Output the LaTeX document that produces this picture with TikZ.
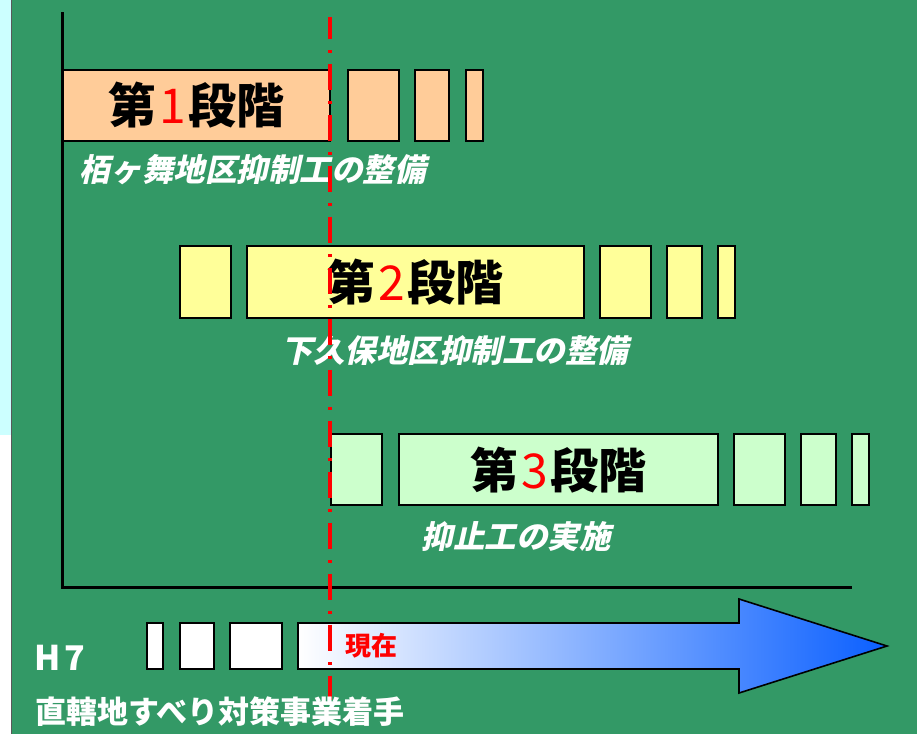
\documentclass[tikz,border=0pt]{standalone}
\usepackage{fontspec}
\newfontfamily\jp{Noto Sans CJK JP}
\newfontfamily\jpsl{Noto Sans CJK JP}[FakeSlant=0.22]
\definecolor{bggreen}{HTML}{339966}
\definecolor{stripcyan}{HTML}{CCFFFF}
\definecolor{boxone}{HTML}{FFCC99}
\definecolor{boxtwo}{HTML}{FFFF99}
\definecolor{boxthree}{HTML}{CCFFCC}
\definecolor{arrowblue}{RGB}{10,95,255}
\newcommand{\stagedigit}[1]{\hspace{3pt}{\mdseries\textcolor{red}{#1}}\hspace{3pt}}
\begin{document}
\begin{tikzpicture}[x=1pt,y=-1pt,
  axisline/.style={line width=3pt,black,line join=miter},
  boxbase/.style={draw=black,line width=1.6pt},
  onebox/.style={boxbase,fill=boxone},
  twobox/.style={boxbase,fill=boxtwo},
  threebox/.style={boxbase,fill=boxthree},
  nowbox/.style={boxbase,fill=white},
  nowline/.style={red,line width=3.2pt,dash pattern=on 26pt off 11.5pt on 2.5pt off 11pt,dash phase=4.3pt},
  stagelabel/.style={inner sep=0pt,font=\jp\bfseries\fontsize{48}{52}\selectfont,text=black},
  sublabel/.style={inner sep=0pt,font=\jpsl\bfseries\fontsize{31.5}{34}\selectfont,text=white},
  bottomlabel/.style={inner sep=0pt,font=\jp\bfseries\fontsize{31}{34}\selectfont,text=white},
]
\useasboundingbox (0,0) rectangle (917,734);
% background
\fill[stripcyan] (0,0) rectangle (12,435);
\fill[white] (0,435) rectangle (12,734);
\fill[bggreen] (12,0) rectangle (917,734);
\draw[gray!70!black,line width=1pt] (11.5,0) -- (11.5,734);

% axes
\coordinate (axtop) at (62,12);
\coordinate (origin) at (62,587);
\coordinate (axend) at (852,587);
\draw[axisline] (axtop) -- (origin) -- (axend);

% stage 1
\draw[onebox] (63,70) rectangle (330,141);
\draw[onebox] (348,70) rectangle (399,141);
\draw[onebox] (415,70) rectangle (449,141);
\draw[onebox] (466,70) rectangle (483,141);
\node[stagelabel] (s1) at (196.5,105.5) {第\stagedigit{1}段階};
\node[sublabel] (t1) at (252.5,170) {栢ヶ舞地区抑制工の整備};

% stage 2
\draw[twobox] (180,246) rectangle (231,318);
\draw[twobox] (247,246) rectangle (584,318);
\draw[twobox] (600,246) rectangle (651,318);
\draw[twobox] (667,246) rectangle (702,318);
\draw[twobox] (718,246) rectangle (735,318);
\node[stagelabel] (s2) at (415.5,282) {第\stagedigit{2}段階};
\node[sublabel] (t2) at (455,351) {下久保地区抑制工の整備};

% stage 3
\draw[threebox] (331,434) rectangle (382,505);
\draw[threebox] (399,434) rectangle (718,505);
\draw[threebox] (734,434) rectangle (785,505);
\draw[threebox] (801,434) rectangle (836,505);
\draw[threebox] (852,434) rectangle (869,505);
\node[stagelabel] (s3) at (558.5,470) {第\stagedigit{3}段階};
\node[sublabel] (t3) at (516,537) {抑止工の実施};

% time row
\draw[nowbox] (147,623) rectangle (163,669);
\draw[nowbox] (180,623) rectangle (214,669);
\draw[nowbox] (230,623) rectangle (282,669);
\draw[line width=1.6pt,draw=black,left color=white,right color=arrowblue]
  (298,623) -- (739,623) -- (739,599) -- (887,646) -- (739,693) -- (739,669) -- (298,669) -- cycle;

% now line
\coordinate (nowtop) at (330,17);
\coordinate (nowbot) at (330,700);
\draw[nowline] (nowtop) -- (nowbot);

\node[inner sep=0pt,font=\jp\bfseries\fontsize{26}{28}\selectfont,text=red] (now) at (371.5,646) {現在};
\node[inner sep=0pt,font=\jp\bfseries\fontsize{34}{36}\selectfont,text=white] (h7) at (59.5,657.5) {H\hspace{3.5pt}7};
\node[bottomlabel] (start) at (220,712) {直轄地すべり対策事業着手};
\end{tikzpicture}
\end{document}
